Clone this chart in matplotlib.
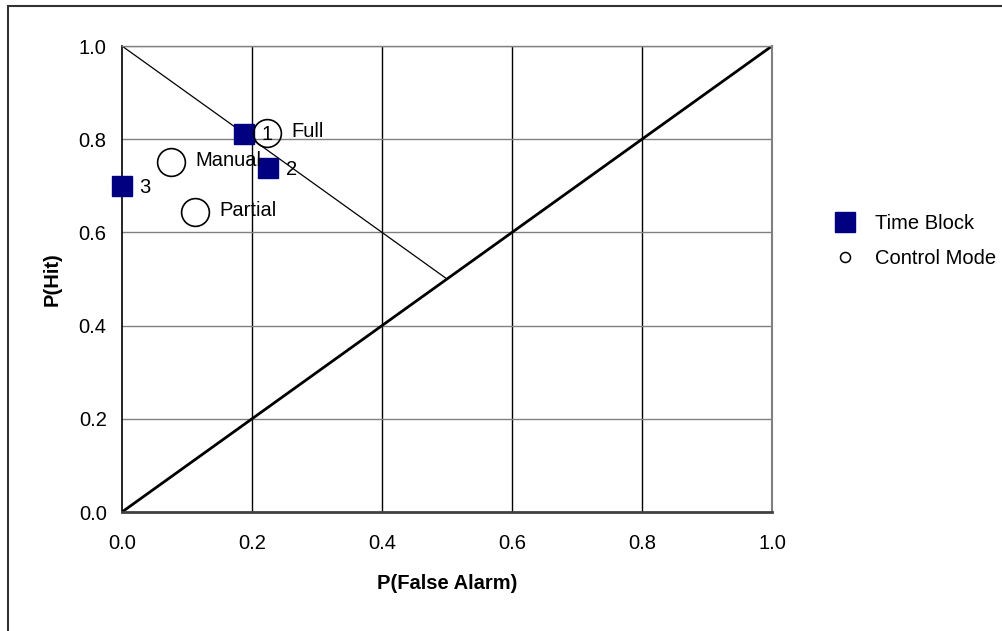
import matplotlib
matplotlib.use("Agg")
import matplotlib.pyplot as plt
from matplotlib.lines import Line2D
from matplotlib.patches import Rectangle

# Time Block points
block_labels = ["1", "2", "3"]
block_far = [0.188, 0.225, 0.0]
block_hit = [0.812, 0.738, 0.700]

# Control Mode points
mode_labels = ["Full", "Manual", "Partial"]
mode_far = [0.223, 0.075, 0.112]
mode_hit = [0.814, 0.751, 0.643]

ticks = [0.0, 0.2, 0.4, 0.6, 0.8, 1.0]
tick_labels = ["0.0", "0.2", "0.4", "0.6", "0.8", "1.0"]

plt.rcParams['font.family'] = ['Liberation Sans', 'DejaVu Sans']
FS = 14.5

W, H = 1003, 631
fig = plt.figure(figsize=(W / 100, H / 100), dpi=100)
fig.patch.set_facecolor('white')

# outer frame (cut off at right and bottom like the original)
fig.patches.append(Rectangle((8 / W, -0.2), 1.2, 1.2 - 6 / H,
                             transform=fig.transFigure, fill=False,
                             edgecolor='#333333', linewidth=1.5,
                             clip_on=False))

ax = fig.add_axes([122 / W, (H - 512) / H, 650 / W, 466 / H])
ax.set_xlim(0, 1)
ax.set_ylim(0, 1)

# grid
for t in ticks[1:-1]:
    ax.axvline(t, color='black', linewidth=1.0, zorder=1)
for t in ticks[1:]:
    ax.axhline(t, color='#808080', linewidth=1.0, zorder=1)

# reference lines
ax.plot([0, 1], [0, 1], color='black', linewidth=2.0, zorder=2)
ax.plot([0, 0.5], [1, 0.5], color='black', linewidth=0.9, zorder=2)

ax.plot(block_far, block_hit, linestyle='none', marker='s', markersize=14.4,
        markerfacecolor='#000080', markeredgecolor='#000080', zorder=4,
        clip_on=False)
ax.plot(mode_far, mode_hit, linestyle='none', marker='o', markersize=20,
        markerfacecolor='none', markeredgecolor='black',
        markeredgewidth=1.2, zorder=4, clip_on=False)

for lab, x, y in zip(block_labels, block_far, block_hit):
    ax.annotate(lab, (x, y), xytext=(12.5, -1), textcoords='offset points',
                ha='left', va='center', fontsize=FS, zorder=5)
for lab, x, y in zip(mode_labels, mode_far, mode_hit):
    ax.annotate(lab, (x, y), xytext=(17.5, 1), textcoords='offset points',
                ha='left', va='center', fontsize=FS, zorder=5)

ax.set_xticks(ticks)
ax.set_yticks(ticks)
ax.set_xticklabels(tick_labels, fontsize=FS)
ax.set_yticklabels(tick_labels, fontsize=FS)
ax.tick_params(length=0)
ax.tick_params(axis='x', pad=16)
ax.tick_params(axis='y', pad=11)

ax.spines['left'].set_color('black')
ax.spines['left'].set_linewidth(1.2)
ax.spines['bottom'].set_color('#404040')
ax.spines['bottom'].set_linewidth(2.0)
ax.spines['right'].set_color('#808080')
ax.spines['right'].set_linewidth(1.5)
ax.spines['top'].set_color('#808080')
ax.spines['top'].set_linewidth(1.0)

ax.set_xlabel('P(False Alarm)', fontsize=FS, fontweight='bold', labelpad=15)
ax.set_ylabel('P(Hit)', fontsize=FS, fontweight='bold', labelpad=12)

handles = [
    Line2D([], [], linestyle='none', marker='s', markersize=14.4,
           markerfacecolor='#000080', markeredgecolor='#000080'),
    Line2D([], [], linestyle='none', marker='o', markersize=7.2,
           markerfacecolor='none', markeredgecolor='black',
           markeredgewidth=1.1),
]
fig.legend(handles, ['Time Block', 'Control Mode'], loc='center left',
           bbox_to_anchor=(835 / W, 1 - 241 / H), frameon=False,
           fontsize=FS, handlelength=1.0, handletextpad=1.0,
           labelspacing=0.75, borderpad=0, borderaxespad=0)

fig.savefig('out.png', dpi=100, facecolor='white')
